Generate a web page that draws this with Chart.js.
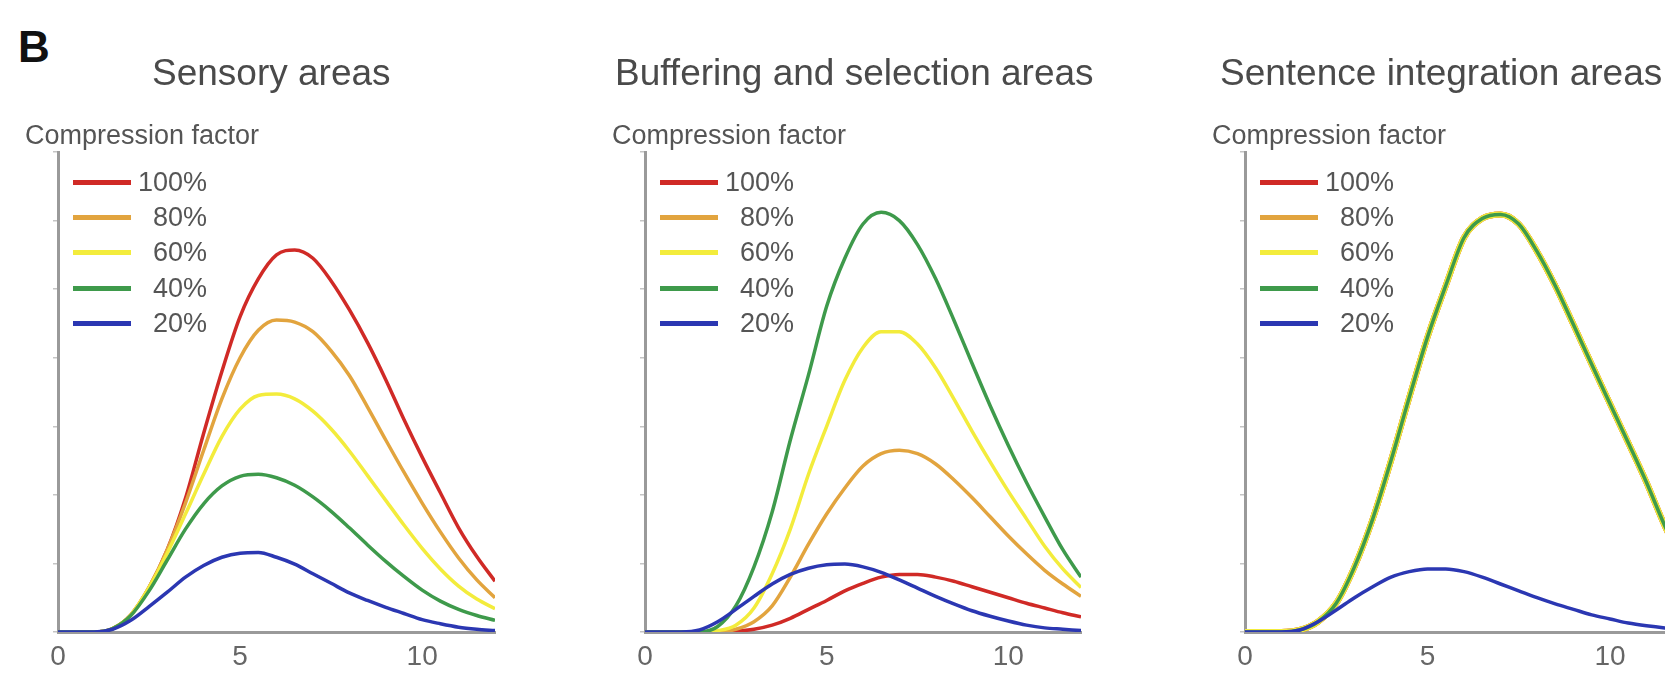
<!DOCTYPE html>
<html>
<head>
<meta charset="utf-8">
<script src="https://cdn.jsdelivr.net/npm/chart.js@4.4.0/dist/chart.umd.min.js"></script>
<style>
  html, body { margin: 0; padding: 0; background: #fff; }
  body { width: 1665px; height: 673px; overflow: hidden; position: relative;
         font-family: "Liberation Sans", Arial, sans-serif; }
  canvas { position: absolute; top: 0; }
  .txt { position: absolute; white-space: nowrap; line-height: 1; color: #4a4a4a; }
  .panelTitle { font-size: 37px; }
  .legTitle { font-size: 27px; color: #555; }
  .legLabel { font-size: 27px; color: #555; text-align: right; width: 100px; }
  .legLine { position: absolute; height: 5px; width: 58px; }
  #letter { left: 18px; top: 25px; font-size: 44px; font-weight: bold; color: #111; }
</style>
</head>
<body>
<div id="letter" class="txt">B</div>
<canvas id="sensoryChart" width="560" height="673" style="left:0px"></canvas>
<canvas id="bufferChart" width="560" height="673" style="left:560px"></canvas>
<canvas id="integrationChart" width="620" height="673" style="left:1110px"></canvas>

<script>
// time axis samples (s)
const xValues = [0, 0.5, 1, 1.5, 2, 2.5, 3, 3.5, 4, 4.5, 5, 5.5, 6, 6.5, 7, 7.5, 8, 8.5, 9, 9.5, 10, 10.5, 11, 11.5, 12];
const xTicks = [0, 5, 10];

const factors = ["100%", "80%", "60%", "40%", "20%"];
const factorColors = ["#d02a26", "#e2a43e", "#f3ec3c", "#3e9a4b", "#2b37b2"];

const panelTitles = ["Sensory areas", "Buffering and selection areas", "Sentence integration areas"];
const legendTitle = "Compression factor";

// Sensory areas
const sensory100 = [0, 0, 0, 0.05, 0.25, 0.65, 1.2, 1.95, 2.9, 3.8, 4.6, 5.15, 5.5, 5.57, 5.45, 5.12, 4.7, 4.22, 3.68, 3.1, 2.55, 2.03, 1.52, 1.1, 0.74];
const sensory80 = [0, 0, 0, 0.05, 0.25, 0.65, 1.2, 1.88, 2.65, 3.4, 4.0, 4.4, 4.55, 4.52, 4.38, 4.1, 3.74, 3.28, 2.8, 2.33, 1.88, 1.46, 1.08, 0.76, 0.5];
const sensory60 = [0, 0, 0, 0.05, 0.25, 0.65, 1.15, 1.72, 2.3, 2.85, 3.25, 3.45, 3.47, 3.4, 3.22, 2.96, 2.64, 2.28, 1.92, 1.56, 1.22, 0.92, 0.67, 0.48, 0.34];
const sensory40 = [0, 0, 0, 0.05, 0.24, 0.6, 1.05, 1.5, 1.87, 2.13, 2.27, 2.3, 2.25, 2.14, 1.97, 1.76, 1.52, 1.27, 1.03, 0.81, 0.61, 0.45, 0.33, 0.24, 0.17];
const sensory20 = [0, 0, 0, 0.04, 0.17, 0.37, 0.58, 0.8, 0.97, 1.09, 1.15, 1.16, 1.09, 0.99, 0.85, 0.71, 0.57, 0.46, 0.36, 0.27, 0.18, 0.12, 0.07, 0.04, 0.02];

// Buffering and selection areas
const buffer100 = [0, 0, 0, 0, 0, 0.01, 0.04, 0.1, 0.2, 0.33, 0.46, 0.6, 0.71, 0.8, 0.84, 0.84, 0.8, 0.74, 0.66, 0.58, 0.5, 0.42, 0.35, 0.28, 0.22];
const buffer80 = [0, 0, 0, 0, 0, 0.04, 0.15, 0.38, 0.8, 1.28, 1.72, 2.1, 2.42, 2.6, 2.65, 2.6, 2.45, 2.22, 1.96, 1.68, 1.4, 1.14, 0.9, 0.7, 0.52];
const buffer60 = [0, 0, 0, 0, 0.02, 0.1, 0.35, 0.85, 1.5, 2.3, 3.0, 3.67, 4.15, 4.38, 4.38, 4.2, 3.85, 3.4, 2.93, 2.48, 2.05, 1.65, 1.25, 0.92, 0.65];
const buffer40 = [0, 0, 0, 0, 0.08, 0.38, 0.95, 1.75, 2.8, 3.75, 4.75, 5.45, 5.95, 6.12, 6.0, 5.65, 5.15, 4.55, 3.92, 3.3, 2.72, 2.18, 1.68, 1.2, 0.8];
const buffer20 = [0, 0, 0, 0.03, 0.15, 0.33, 0.52, 0.7, 0.84, 0.93, 0.98, 0.99, 0.95, 0.87, 0.76, 0.64, 0.52, 0.41, 0.31, 0.23, 0.16, 0.1, 0.06, 0.04, 0.02];

// Sentence integration areas (40-100% lie on top of each other)
const integration40 = [0, 0, 0, 0.03, 0.15, 0.42, 0.95, 1.65, 2.5, 3.42, 4.3, 5.05, 5.75, 6.03, 6.09, 5.95, 5.55, 5.05, 4.48, 3.9, 3.33, 2.76, 2.18, 1.55, 1.0];
const integration60 = integration40.slice();
const integration80 = integration40.slice();
const integration100 = integration40.slice();
const integration20 = [0, 0, 0, 0.03, 0.15, 0.32, 0.5, 0.66, 0.8, 0.88, 0.92, 0.92, 0.88, 0.8, 0.7, 0.6, 0.5, 0.41, 0.33, 0.25, 0.19, 0.13, 0.09, 0.06, 0.04];

function addText(cls, text, left, top) {
    const el = document.createElement("div");
    el.className = "txt " + cls;
    el.textContent = text;
    el.style.left = left + "px";
    el.style.top = top + "px";
    document.body.appendChild(el);
    return el;
}

// title, legend title and legend rows of one panel, axisX = page x of the y axis
function addLabels(title, titleLeft, axisX) {
    addText("panelTitle", title, titleLeft, 54);
    addText("legTitle", legendTitle, axisX - 33, 122);
    const rowY = [182, 217, 252, 288, 323];
    factors.forEach((f, i) => {
        const line = document.createElement("div");
        line.className = "legLine";
        line.style.left = (axisX + 15) + "px";
        line.style.top = (rowY[i] - 2.5) + "px";
        line.style.background = factorColors[i];
        document.body.appendChild(line);
        addText("legLabel", f, axisX + 49, rowY[i] - 13);
    });
}

function drawPanel(canvasId, series, padLeft, padRight, underWidth) {
    const ctx = document.getElementById(canvasId).getContext("2d");

    // dataset 0 is painted last, so reverse to keep 20% on top
    const datasets = series.map((vals, i) => ({
        label: factors[i],
        data: xValues.map((x, k) => ({ x: x, y: vals[k] })),
        borderColor: factorColors[i],
        borderWidth: i < 3 ? underWidth : 3.5,
        pointRadius: 0,
        cubicInterpolationMode: "monotone",
        fill: false
    })).reverse();

    return new Chart(ctx, {
        type: "line",
        data: { datasets: datasets },
        options: {
            responsive: false,
            animation: false,
            layout: { padding: { left: padLeft, right: padRight, top: 152, bottom: 0 } },
            plugins: { legend: { display: false }, tooltip: { enabled: false } },
            scales: {
                x: {
                    type: "linear",
                    min: 0,
                    max: 12,
                    afterBuildTicks: (axis) => { axis.ticks = xTicks.map(v => ({ value: v })); },
                    afterFit: (scale) => { scale.height = 41; },
                    ticks: {
                        color: "#666",
                        padding: 8,
                        maxRotation: 0,
                        font: { family: "Liberation Sans", size: 28 }
                    },
                    grid: { display: false, drawTicks: false },
                    border: { display: true, color: "#9a9a9a", width: 3 }
                },
                y: {
                    min: 0,
                    max: 7,
                    afterFit: (scale) => { scale.width = 0; },
                    ticks: { display: false, stepSize: 1 },
                    grid: {
                        display: true,
                        drawOnChartArea: false,
                        drawTicks: true,
                        tickLength: 5,
                        color: "#c4c4c4",
                        lineWidth: 1.5
                    },
                    border: { display: true, color: "#9a9a9a", width: 3 }
                }
            }
        }
    });
}

addLabels(panelTitles[0], 152, 58);
addLabels(panelTitles[1], 615, 645);
addLabels(panelTitles[2], 1220, 1245);

drawPanel("sensoryChart", [sensory100, sensory80, sensory60, sensory40, sensory20], 58, 65, 3.5);
drawPanel("bufferChart", [buffer100, buffer80, buffer60, buffer40, buffer20], 85, 39, 3.5);
drawPanel("integrationChart", [integration100, integration80, integration60, integration40, integration20], 135, 47, 6);
</script>
</body>
</html>
